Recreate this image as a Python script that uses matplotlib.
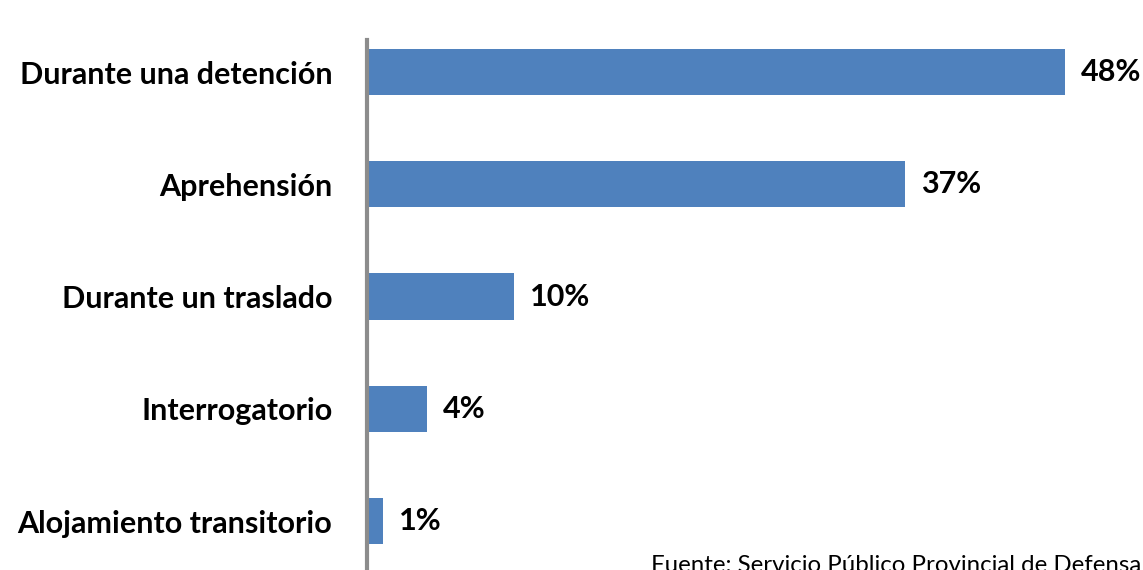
import matplotlib.pyplot as plt

categorias = ["Durante una detención", "Aprehensión", "Durante un traslado",
              "Interrogatorio", "Alojamiento transitorio"]
valores = [48, 37, 10, 4, 1]
fuente = "Fuente: Servicio Público Provincial de Defensa"

plt.rcParams['font.family'] = ['Lato', 'DejaVu Sans']

W, H = 1143, 570
fig = plt.figure(figsize=(W / 100, H / 100), dpi=100)
ax = fig.add_axes([367 / W, 0, (W - 367) / W, 530 / H])

y = list(range(len(categorias)))
ax.barh(y, valores, height=0.41, color="#4f81bd", left=0.12)
ax.set_xlim(0, 48 * 776 / 696)
ax.set_ylim(4 + 49 / 112.25, -32 / 112.25)

for yi, v in zip(y, valores):
    ax.annotate(f"{v}%", (v + 0.12, yi), xytext=(11.5, 0), textcoords="offset points",
                va="center", ha="left", fontsize=22, fontweight="bold")

ax.set_yticks(y)
ax.set_yticklabels(categorias, fontsize=22, fontweight="bold")
ax.tick_params(axis="y", length=0, pad=25)
ax.set_xticks([])
for s in ["top", "right", "bottom"]:
    ax.spines[s].set_visible(False)
ax.spines["left"].set_color("#8c8c8c")
ax.spines["left"].set_linewidth(3)

# la fuente queda cortada en el borde, igual que en el original
fig.text(651 / W, 1 - 555 / H, fuente, fontsize=17.3, va="top", ha="left")

fig.savefig("out.png", dpi=100)
